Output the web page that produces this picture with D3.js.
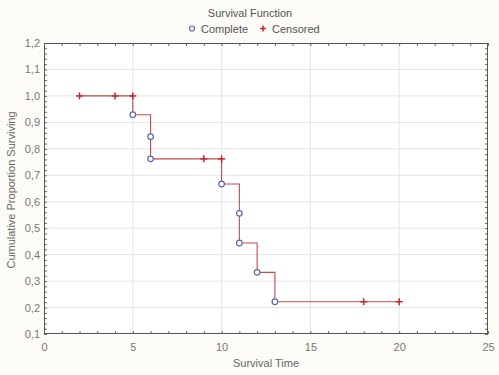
<!DOCTYPE html>
<html><head><meta charset="utf-8">
<script src="https://cdn.jsdelivr.net/npm/d3@7"></script>
<style>
body{margin:0;background:#fcfbf5;}
text{font-family:"Liberation Sans",Arial,sans-serif;}
</style></head>
<body><svg id="c" width="499" height="375"></svg>
<script>
// Step function vertices (time, survival)
const stepTimes = [2, 5, 5, 6, 6, 6, 10, 10, 11, 11, 11, 12, 12, 13, 13, 20];
const stepSurv  = [1.0, 1.0, 0.929, 0.929, 0.846, 0.762, 0.762, 0.667, 0.667, 0.556, 0.444, 0.444, 0.333, 0.333, 0.222, 0.222];
// Complete (event) observations
const completeTimes = [5, 6, 6, 10, 11, 11, 12, 13];
const completeSurv  = [0.929, 0.846, 0.762, 0.667, 0.556, 0.444, 0.333, 0.222];
// Censored observations
const censoredTimes = [2, 4, 5, 9, 10, 18, 20];
const censoredSurv  = [1.0, 1.0, 1.0, 0.762, 0.762, 0.222, 0.222];
const xTicks = [0, 5, 10, 15, 20, 25];
const yTicks = [0.1, 0.2, 0.3, 0.4, 0.5, 0.6, 0.7, 0.8, 0.9, 1.0, 1.1, 1.2];

const svg = d3.select("#c");
const L = 44, R = 488, T = 43, B = 334;
const x = d3.scaleLinear().domain([0, 25]).range([L, R]);
const y = d3.scaleLinear().domain([0.1, 1.2]).range([B, T]);
const fmt = d => d3.format(".1f")(d).replace(".", ",");

svg.append("rect").attr("x", L).attr("y", T).attr("width", R - L).attr("height", B - T).attr("fill", "#fff");

// grid
const grid = svg.append("g").attr("stroke", "#e4e4e4").attr("stroke-width", 1);
xTicks.slice(1, -1).forEach(t => grid.append("line").attr("x1", x(t)).attr("x2", x(t)).attr("y1", T).attr("y2", B));
yTicks.slice(1, -1).forEach(t => grid.append("line").attr("y1", y(t)).attr("y2", y(t)).attr("x1", L).attr("x2", R));

// axes with inward ticks
const minorX = d3.range(0, 26, 1);
const minorY = d3.range(10, 121, 2).map(v => v / 100);
const axB = d3.axisBottom(x).tickValues(minorX).tickSize(-3).tickFormat("");
const axT = d3.axisTop(x).tickValues(minorX).tickSize(-3).tickFormat("");
const axL = d3.axisLeft(y).tickValues(minorY).tickSize(-3).tickFormat("");
const axR = d3.axisRight(y).tickValues(minorY).tickSize(-3).tickFormat("");
[[axB, `translate(0,${B})`], [axT, `translate(0,${T})`], [axL, `translate(${L},0)`], [axR, `translate(${R},0)`]].forEach(([a, tr]) => {
  const g = svg.append("g").attr("transform", tr).call(a);
  g.select(".domain").remove();
  g.selectAll("line").attr("stroke", "#666");
});
svg.append("rect").attr("x", L + 0.5).attr("y", T + 0.5).attr("width", R - L - 1).attr("height", B - T - 1)
  .attr("fill", "none").attr("stroke", "#555").attr("stroke-width", 1);

// tick labels
const xl = d3.axisBottom(x).tickValues(xTicks).tickSize(0).tickPadding(9).tickFormat(d3.format("d"));
const gx = svg.append("g").attr("transform", `translate(0,${B})`).call(xl);
gx.select(".domain").remove();
gx.selectAll("text").attr("fill", "#777").attr("font-size", 11).attr("font-family", "Liberation Sans, Arial, sans-serif");
const yl = d3.axisLeft(y).tickValues(yTicks).tickSize(0).tickPadding(4).tickFormat(fmt);
const gy = svg.append("g").attr("transform", `translate(${L},0)`).call(yl);
gy.select(".domain").remove();
gy.selectAll("text").attr("fill", "#777").attr("font-size", 11).attr("font-family", "Liberation Sans, Arial, sans-serif");

// axis titles
svg.append("text").attr("x", 266).attr("y", 367).attr("text-anchor", "middle").attr("font-size", 11).attr("fill", "#666").text("Survival Time");
svg.append("text").attr("transform", "translate(15,190) rotate(-90)").attr("text-anchor", "middle").attr("font-size", 11).attr("fill", "#666").text("Cumulative Proportion Surviving");

// title & legend
svg.append("text").attr("x", 250).attr("y", 17).attr("text-anchor", "middle").attr("font-size", 11).attr("fill", "#555").text("Survival Function");
svg.append("circle").attr("cx", 192).attr("cy", 28.5).attr("r", 2.5).attr("fill", "#fff").attr("stroke", "#5a6aa8").attr("stroke-width", 1.2);
svg.append("text").attr("x", 201).attr("y", 33).attr("font-size", 11).attr("fill", "#555").text("Complete");
const plus = (g, cx, cy, s) => {
  g.append("line").attr("x1", cx - s).attr("x2", cx + s).attr("y1", cy).attr("y2", cy);
  g.append("line").attr("x1", cx).attr("x2", cx).attr("y1", cy - s).attr("y2", cy + s);
};
const lg = svg.append("g").attr("stroke", "#c0282c").attr("stroke-width", 1.5);
plus(lg, 263, 28.5, 3);
svg.append("text").attr("x", 272).attr("y", 33).attr("font-size", 11).attr("fill", "#555").text("Censored");

// step line
const pts = stepTimes.map((t, i) => [x(t), y(stepSurv[i])]);
svg.append("path").attr("d", d3.line()(pts)).attr("fill", "none").attr("stroke", "#c8484c").attr("stroke-width", 1.1);

// censored markers
const cg = svg.append("g").attr("stroke", "#c0282c").attr("stroke-width", 1.5);
censoredTimes.forEach((t, i) => plus(cg, x(t), y(censoredSurv[i]), 3.5));

// complete markers
svg.append("g").selectAll("circle").data(completeTimes).join("circle")
  .attr("cx", d => x(d)).attr("cy", (d, i) => y(completeSurv[i])).attr("r", 2.8)
  .attr("fill", "#fff").attr("stroke", "#5a6aa8").attr("stroke-width", 1.2);
</script></body></html>
